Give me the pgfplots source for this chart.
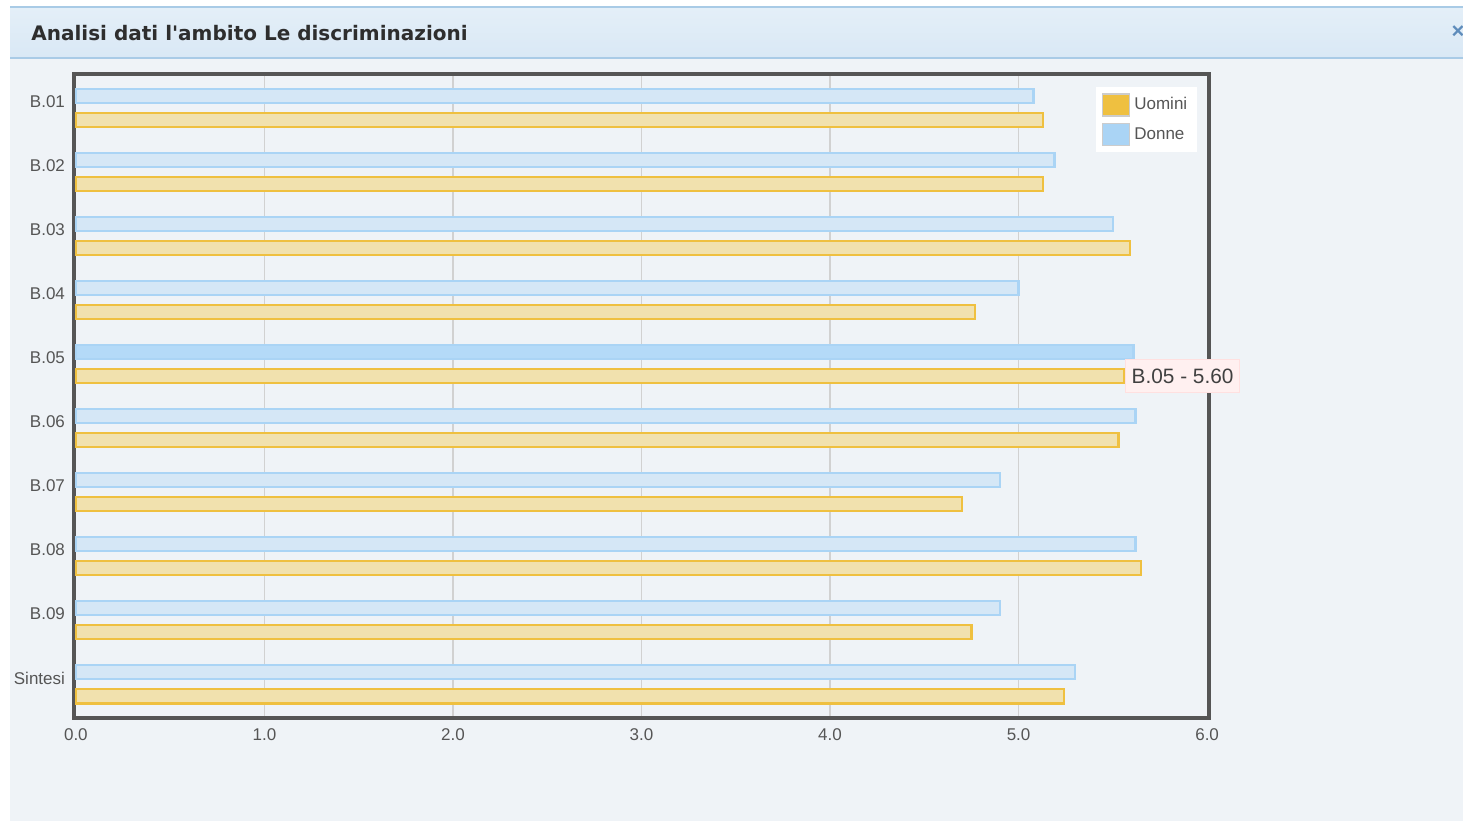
\documentclass[border=0pt]{standalone}
\usepackage{pgfplots}
\pgfplotsset{compat=1.18}
\usepackage{fontspec}
\setmainfont{Liberation Sans}
\newfontfamily\titlefont{DejaVu Sans}
\definecolor{pagebg}{HTML}{EFF3F7}
\definecolor{bartop}{HTML}{E4EFF8}
\definecolor{barbot}{HTML}{D9E8F5}
\definecolor{barline}{HTML}{A9CBE6}
\definecolor{donneline}{HTML}{AAD4F5}
\definecolor{donnefill}{HTML}{D5E7F6}
\definecolor{donnehot}{HTML}{B4DAF8}
\definecolor{uominiline}{HTML}{EFC040}
\definecolor{uominifill}{HTML}{F1E1AE}
\definecolor{tickcol}{HTML}{555555}
\definecolor{framecol}{HTML}{555555}
\definecolor{closecol}{HTML}{5E8CBB}
\begin{document}
\begin{tikzpicture}
\begin{scope}[x=0.5pt,y=-0.5pt]
\path[use as bounding box] (0,0) rectangle (1463,821);
\fill[white] (0,0) rectangle (1463,821);
\fill[pagebg] (10,58) rectangle (1463,821);
\shade[top color=bartop, bottom color=barbot] (10,7) rectangle (1463,58);
\draw[barline, line width=0.6pt] (10,7) -- (1463,7);
\draw[barline, line width=0.6pt] (10,58) -- (1463,58);
\node[anchor=west, inner sep=0pt, text=black!82, font=\titlefont\fontsize{10}{11}\selectfont\bfseries] at (31,33) {Analisi dati l'ambito Le discriminazioni};
\node[text=closecol, font=\fontsize{11}{12}\selectfont\bfseries] at (1458,32) {×};
\end{scope}
\begin{axis}[
  at={(37pt,-37pt)}, anchor=north west,
  scale only axis, width=567.5pt, height=322pt,
  xmin=-0.01, xmax=6.01, ymin=-0.53, ymax=9.53, y dir=reverse,
  axis background/.style={fill=pagebg},
  xbar, bar width=0.22, bar shift=0pt,
  ytick={0,...,9},
  yticklabels={B.01,B.02,B.03,B.04,B.05,B.06,B.07,B.08,B.09,Sintesi},
  xtick={0,1,2,3,4,5,6},
  xticklabels={0.0,1.0,2.0,3.0,4.0,5.0,6.0},
  xmajorgrids, ymajorgrids=false,
  grid style={color=black!18, line width=0.6pt},
  axis line style={framecol, line width=1.6pt},
  major tick length=0pt,
  ticklabel style={font=\fontsize{8.5}{10}\selectfont, text=tickcol},
  yticklabel style={yshift=3pt, xshift=-1pt},
  xticklabel style={yshift=-2pt},
  clip=false,
  legend style={at={(0.990,0.98)}, anchor=north east, fill=white, draw=none,
    font=\fontsize{8.5}{10}\selectfont, text=tickcol, row sep=3pt,
    inner sep=3pt},
  legend cell align=left,
]
\addplot[draw=uominiline, fill=uominifill, line width=1.2pt,
  legend image code/.code={\draw[fill=uominiline, draw=black!20, line width=0.8pt] (0pt,-5.5pt) rectangle (13.5pt,5.5pt);}]
coordinates {
 (5.13,0.19) (5.13,1.19) (5.59,2.19) (4.77,3.19) (5.56,4.19)
 (5.53,5.19) (4.70,6.19) (5.65,7.19) (4.75,8.19) (5.24,9.19)
};
\addlegendentry{Uomini}
\addplot[draw=donneline, fill=donnefill, line width=1.2pt,
  legend image code/.code={\draw[fill=donneline, draw=black!20, line width=0.8pt] (0pt,-5.5pt) rectangle (13.5pt,5.5pt);}]
coordinates {
 (5.08,-0.19) (5.19,0.81) (5.50,1.81) (5.00,2.81) (5.61,3.81)
 (5.62,4.81) (4.90,5.81) (5.62,6.81) (4.90,7.81) (5.30,8.81)
};
\addlegendentry{Donne}
\addplot[draw=donneline, fill=donnehot, line width=1.2pt, forget plot]
coordinates {(5.61,3.81)};
\node[anchor=west, fill=red!6, draw=red!12, line width=0.6pt, inner xsep=3pt, inner ysep=4.5pt,
  text=black!75, font=\fontsize{10.4}{11}\selectfont] at (axis cs:5.565,4.19) {B.05 - 5.60};
\end{axis}
\end{tikzpicture}
\end{document}
